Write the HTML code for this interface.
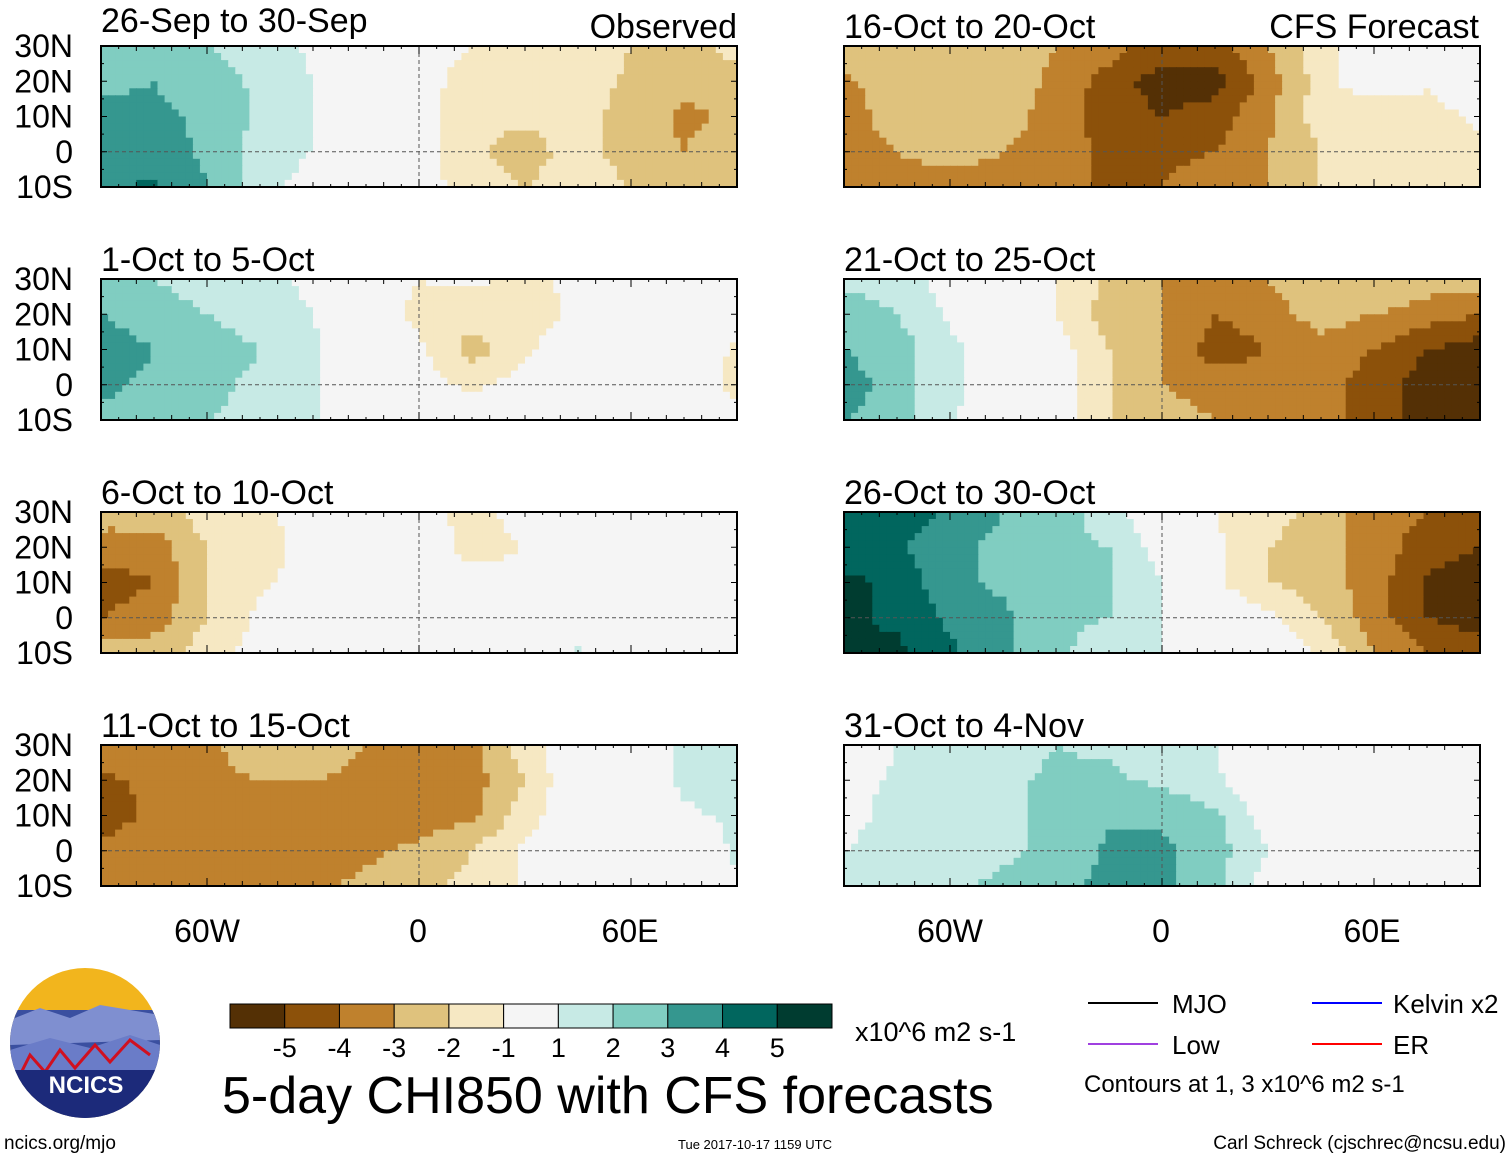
<!DOCTYPE html>
<html><head><meta charset="utf-8"><style>
body{margin:0;background:#fff;width:1510px;height:1159px;overflow:hidden;font-family:"Liberation Sans",sans-serif}
svg{position:absolute;left:0;top:0}
</style></head><body>
<svg id="chart" width="1510" height="1159">
<g id="panels"></g>
<g id="texts" font-family="Liberation Sans, sans-serif" fill="#000">
<text x="101" y="32" font-size="34">26-Sep to 30-Sep</text>
<text x="737" y="38" font-size="34" text-anchor="end">Observed</text>
<text x="844" y="38" font-size="34">16-Oct to 20-Oct</text>
<text x="1479" y="38" font-size="34" text-anchor="end">CFS Forecast</text>
<text x="101" y="271" font-size="34">1-Oct to 5-Oct</text>
<text x="844" y="271" font-size="34">21-Oct to 25-Oct</text>
<text x="101" y="504" font-size="34">6-Oct to 10-Oct</text>
<text x="844" y="504" font-size="34">26-Oct to 30-Oct</text>
<text x="101" y="737" font-size="34">11-Oct to 15-Oct</text>
<text x="844" y="737" font-size="34">31-Oct to 4-Nov</text>
<g font-size="32" text-anchor="middle">
<text x="207" y="942">60W</text><text x="418" y="942">0</text><text x="630" y="942">60E</text>
<text x="950" y="942">60W</text><text x="1161" y="942">0</text><text x="1372" y="942">60E</text>
</g>
<text x="855" y="1041" font-size="27">x10^6 m2 s-1</text>
<text x="222" y="1113" font-size="52">5-day CHI850 with CFS forecasts</text>
<text x="4" y="1149" font-size="19">ncics.org/mjo</text>
<text x="755" y="1149" font-size="13" text-anchor="middle">Tue 2017-10-17 1159 UTC</text>
<text x="1506" y="1149" font-size="19" text-anchor="end">Carl Schreck (cjschrec@ncsu.edu)</text>
<g font-size="26">
<line x1="1088" y1="1003" x2="1158" y2="1003" stroke="#000" stroke-width="2"/><text x="1172" y="1013">MJO</text>
<line x1="1312" y1="1003" x2="1382" y2="1003" stroke="#00f" stroke-width="2"/><text x="1393" y="1013">Kelvin x2</text>
<line x1="1088" y1="1044" x2="1158" y2="1044" stroke="#a040e0" stroke-width="2"/><text x="1172" y="1054">Low</text>
<line x1="1312" y1="1044" x2="1382" y2="1044" stroke="#f00" stroke-width="2"/><text x="1393" y="1054">ER</text>
<text x="1084" y="1092" font-size="24">Contours at 1, 3 x10^6 m2 s-1</text>
</g>
</g>
<g id="logo">
<clipPath id="lc"><circle cx="85" cy="1043" r="75"/></clipPath>
<g clip-path="url(#lc)">
<rect x="10" y="968" width="150" height="150" fill="#f2b51d"/>
<rect x="10" y="1010" width="150" height="110" fill="#3a4fa0"/>
<path d="M10 1020 L40 1008 L70 1018 L100 1005 L160 1015 L160 1040 L10 1045Z" fill="#7f8fd0"/>
<path d="M10 1050 L50 1038 L90 1048 L130 1035 L160 1045 L160 1070 L10 1075Z" fill="#6a7cc8"/>
<path d="M20 1075 L30 1055 L45 1072 L60 1050 L75 1068 L95 1045 L110 1062 L130 1040 L150 1055" fill="none" stroke="#d01020" stroke-width="3"/>
<rect x="10" y="1070" width="150" height="50" fill="#1c2a7a"/>
</g>
<text x="86" y="1093" font-size="24" font-weight="bold" fill="#fff" text-anchor="middle" font-family="Liberation Sans, sans-serif">NCICS</text>
</g>
<g id="colorbar"></g>
</svg>
<script>
const lons=[-90,-75,-60,-45,-30,-15,0,15,30,45,60,75,90];
const lats=[30,20,10,0,-10];
const p1=[[2.5,2.8,2,1.5,0.8,0,-0.5,-1,-1,-1.2,-2,-2.5,-1.5],[2.8,3,2.5,1.8,1,0,-0.5,-1.5,-1.5,-1.5,-2.2,-2.8,-2.5],[3.2,3.2,2.8,1.8,1,0,-0.5,-1.8,-1.8,-1.5,-2.5,-3.2,-2.8],[3.5,3.5,2.8,1.5,1,0,-0.5,-1.8,-2.5,-1.5,-2.5,-3,-2.5],[3.8,4.2,3,1.5,0.5,0,-0.5,-1.5,-2,-1.5,-2,-2.5,-2.5]];
const p2=[[2.5,2,1.5,1.2,0.8,-0.5,-1,-0.8,-1.2,-0.8,0,0,0],[3,2.5,2,1.5,1,-0.5,-1.2,-1.5,-1.5,-0.8,0,0,0],[3.5,3,2.5,2,1.2,0,-0.8,-2.5,-1.2,0,0,0,-1.2],[3.2,2.8,2.2,1.8,1.2,0,-0.5,-1.2,-0.5,0,0,0,-1.5],[2.8,2.5,2,1.8,1.2,0,0,-0.5,0,0,0,0,-0.5]];
const p3=[[-2.5,-2.5,-1.5,-1.2,-0.5,0,-0.5,-1.5,-0.5,0,0,0,0],[-3.5,-3.5,-2,-1.5,-0.5,0,0,-1.5,-1,0,0,0,0],[-4.5,-4,-2,-1.2,-0.5,0,0,-0.5,-0.5,0,0,0,0],[-4,-3.5,-2,-0.8,0,0,0,0,0,0,0,0,0],[-2.5,-2.5,-1.5,-0.5,0,0,0,0,0.5,1.2,0,0,0]];
const p4=[[-3.2,-3.5,-3.2,-2.5,-2.5,-3,-3,-3.2,-1.5,0,0,1.2,1.8],[-4.2,-3.8,-3.2,-3,-3,-3.2,-3.5,-3.5,-2,0,0,1.2,1.8],[-4.5,-3.8,-3,-3.2,-3.5,-3.5,-3.5,-3.2,-1.5,0,0,0.8,1.2],[-3.8,-3.2,-3,-3.2,-3.5,-3.2,-2.8,-2,-0.8,0,0,0,1.2],[-3,-3.2,-3,-3,-3.2,-2.8,-2.2,-1.8,-0.8,0,0,0,0.8]];
const p5=[[-2.5,-2.2,-2.2,-2.5,-3,-3.5,-4.5,-4.5,-3,-1.5,0,-1,0.5],[-3.2,-2.5,-2,-2.5,-3.2,-4.5,-5.5,-5.5,-3.5,-1.5,0,-0.8,0],[-3.5,-2.5,-2,-2.5,-3.5,-4.5,-5,-4.5,-3.2,-1.5,-2,-1.5,-0.8],[-3.5,-3,-2.5,-3,-3.5,-4.2,-4.2,-4,-3,-2,-2,-1.8,-1.2],[-3.5,-3.5,-3.5,-3.5,-4,-4,-4,-3.5,-3,-2,-2,-2,-1.5]];
const p6=[[1.8,1.5,0.5,0,-1,-2.2,-3,-3.5,-3,-2,-2,-2.5,-2.5],[2.5,2,0.8,0,-1,-2.5,-3,-4,-3.5,-2.5,-3,-3.5,-4],[3,2.5,1.2,0.5,-0.5,-2,-3,-4.5,-4,-3.5,-4,-5,-5.5],[3.5,2.5,1.2,0.5,-0.5,-2,-3,-3.5,-3.5,-3.5,-4.5,-5.5,-5.5],[3,2.5,1.2,0,-0.5,-2,-2.5,-3,-3,-3.5,-4.5,-5.5,-5.5]];
const p7=[[4.5,4.8,3.8,3,2.5,1.5,0,-1,-1.5,-2.5,-3.5,-4,-4.5],[4.5,4.2,3.2,2.8,2.2,2,0.5,-0.8,-2,-2.5,-3.5,-4.5,-5],[5.2,4.8,3.2,2.8,3,2,1,-0.8,-2,-2.5,-3.5,-5.2,-5.5],[5.2,4.8,3.8,3.2,2.2,2,1,0,-0.8,-2,-3.5,-5,-5.5],[5.2,5.2,4.2,3.2,2.2,1.5,1,0,0,-1.2,-3,-4,-4.5]];
const p8=[[0,1,1.2,1.5,2,1.8,1.2,1,0,0,0,0,0],[0.5,1.2,1.5,1.8,2.2,2.2,1.8,1.2,0,0,0,0,0],[0.5,1.5,1.5,1.8,2.2,2.8,2.8,2.2,0.5,0,0,0,0],[1,1.5,1.5,1.8,2.2,3.2,3.2,2.5,1,0,0,0,0],[1,1.5,1.8,2.2,2.8,3.2,3.2,2.2,0.5,0,0,0,0]];
const levels=[-5,-4,-3,-2,-1,1,2,3,4,5];
const levelLabels=["-5","-4","-3","-2","-1","1","2","3","4","5"];
const colors=["#543005","#8c510a","#bf812d","#dfc27d","#f6e8c3","#f5f5f5","#c7eae5","#80cdc1","#35978f","#01665e","#003c30"];
const panels=[{d:p1,x:101,y:46},{d:p2,x:101,y:279},{d:p3,x:101,y:512},{d:p4,x:101,y:745},{d:p5,x:844,y:46},{d:p6,x:844,y:279},{d:p7,x:844,y:512},{d:p8,x:844,y:745}];
const NS="http://www.w3.org/2000/svg";
const W=636,H=141;
function color(v){let i=0;while(i<levels.length&&v>=levels[i])i++;return colors[i];}
function val(d,lon,lat){const fi=(lon+90)/15,fj=(30-lat)/10;let i=Math.min(Math.floor(fi),11),j=Math.min(Math.floor(fj),3);const a=fi-i,b=fj-j;
return d[j][i]*(1-a)*(1-b)+d[j][i+1]*a*(1-b)+d[j+1][i]*(1-a)*b+d[j+1][i+1]*a*b;}
function el(t,at,p){const e=document.createElementNS(NS,t);for(const k in at)e.setAttribute(k,at[k]);p.appendChild(e);return e;}
const root=document.getElementById('panels');
panels.forEach((p,k)=>{
 const g=el('g',{},root);
 
 
 const sx=lon=>p.x+(lon+90)/180*W, sy=lat=>p.y+(30-lat)/40*H;
 const step=2;
 for(let lat=30;lat>-10;lat-=step){for(let lon=-90;lon<90;lon+=step){
  const v=val(p.d,lon+step/2,lat-step/2);
  el('rect',{x:sx(lon).toFixed(1),y:sy(lat).toFixed(1),width:(step/180*W+0.6).toFixed(2),height:(step/40*H+0.6).toFixed(2),fill:color(v)},g);
 }}
 el('line',{x1:p.x,x2:p.x+W,y1:sy(0),y2:sy(0),stroke:'#555','stroke-dasharray':'4,3','stroke-width':1},g);
 el('line',{x1:sx(0),x2:sx(0),y1:p.y,y2:p.y+H,stroke:'#555','stroke-dasharray':'4,3','stroke-width':1},g);
 for(let lon=-90;lon<=90;lon+=5){const L=lon%60===0?8:(lon%10===0?5:3);
  el('line',{x1:sx(lon),x2:sx(lon),y1:p.y,y2:p.y+L,stroke:'#000'},g);
  el('line',{x1:sx(lon),x2:sx(lon),y1:p.y+H,y2:p.y+H-L,stroke:'#000'},g);}
 for(let lat=-10;lat<=30;lat+=5){const L=lat%10===0?6:3;
  el('line',{x1:p.x,x2:p.x+L,y1:sy(lat),y2:sy(lat),stroke:'#000'},g);
  el('line',{x1:p.x+W,x2:p.x+W-L,y1:sy(lat),y2:sy(lat),stroke:'#000'},g);}
 el('rect',{x:p.x,y:p.y,width:W,height:H,fill:'none',stroke:'#000','stroke-width':2},g);
 if(p.x<500){
  ['30N','20N','10N','0','10S'].forEach((t,i)=>{const tx=el('text',{x:73,y:p.y+i*H/4+11,'font-size':32,'text-anchor':'end'},g);tx.textContent=t;});
 }
});
const cb=document.getElementById('colorbar');
const bw=(832-230)/11;
colors.forEach((c,i)=>{const r=el('rect',{x:230+i*bw,y:1004,width:bw,height:24,fill:c,stroke:'#000','stroke-width':1},cb);
 
 });
levelLabels.forEach((t,i)=>{const tx=el('text',{x:230+(i+1)*bw,y:1057,'font-size':27,'text-anchor':'middle'},cb);tx.textContent=t;
 
 });
</script>
</body></html>
